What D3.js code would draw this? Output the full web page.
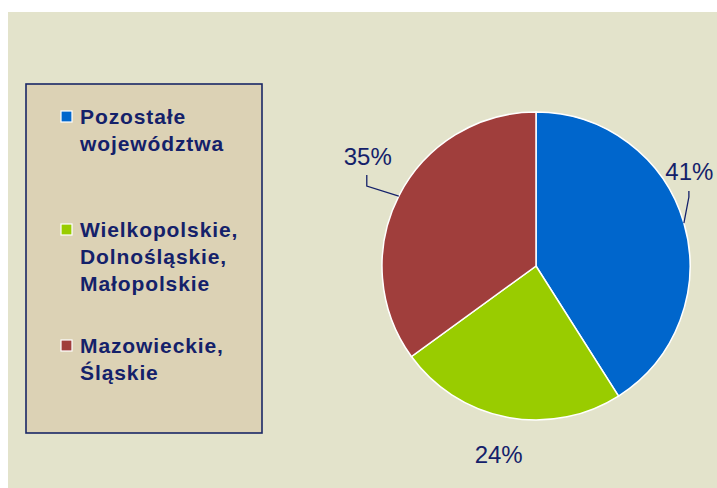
<!DOCTYPE html>
<html>
<head>
<meta charset="utf-8">
<script src="https://cdn.jsdelivr.net/npm/d3@7"></script>
<style>
  html, body { margin: 0; padding: 0; background: #fff; }
  svg { display: block; font-family: "Liberation Sans", Arial, sans-serif; }
</style>
</head>
<body>
<svg></svg>
<script>
// data
const categories = ["Pozostałe województwa", "Wielkopolskie, Dolnośląskie, Małopolskie", "Mazowieckie, Śląskie"];
const legendLines = [["Pozostałe", "województwa"], ["Wielkopolskie,", "Dolnośląskie,", "Małopolskie"], ["Mazowieckie,", "Śląskie"]];
const values = [41, 24, 35];
const colors = ["#0066CC", "#99CC00", "#A03E3C"];

const width = 717, height = 488;
const textColor = "#14216A";

const svg = d3.select("svg")
    .attr("width", width)
    .attr("height", height);

svg.append("rect")
    .attr("x", 8).attr("y", 12)
    .attr("width", width - 8).attr("height", height - 12)
    .attr("fill", "#E3E3CB");

// pie
const cx = 536, cy = 266, r = 154;
const g = svg.append("g").attr("transform", `translate(${cx},${cy})`);

const pie = d3.pie().sort(null).value(d => d);
const arcs = pie(values);
const arc = d3.arc().innerRadius(0).outerRadius(r);

g.selectAll(".slice")
    .data(arcs)
    .enter().append("path")
    .attr("class", "slice")
    .attr("d", arc)
    .attr("fill", (d, i) => colors[i])
    .attr("stroke", "#fff")
    .attr("stroke-width", 1.5);

// label placement relative to the slice's edge point at mid angle
const labelLayout = [
    {elbow: [5, -26], end: [5, -32], text: [5.5, -43]},
    {elbow: null, end: null, text: [-8.5, 46]},
    {elbow: [-32, -10], end: [-32, -21], text: [-31, -31]}
];

arcs.forEach((d, i) => {
    const mid = (d.startAngle + d.endAngle) / 2;
    const ex = r * Math.sin(mid), ey = -r * Math.cos(mid);
    const L = labelLayout[i];
    if (L.elbow) {
        g.append("polyline")
            .attr("points", [[ex, ey], [ex + L.elbow[0], ey + L.elbow[1]], [ex + L.end[0], ey + L.end[1]]].map(p => p.join(",")).join(" "))
            .attr("fill", "none")
            .attr("stroke", textColor)
            .attr("stroke-width", 1.3);
    }
    g.append("text")
        .attr("x", ex + L.text[0])
        .attr("y", ey + L.text[1])
        .attr("text-anchor", "middle")
        .attr("font-size", 24)
        .attr("fill", textColor)
        .text(d3.format(".0%")(d.data / 100));
});

// legend
svg.append("rect")
    .attr("x", 26).attr("y", 84)
    .attr("width", 236).attr("height", 349)
    .attr("fill", "#DCD2B5")
    .attr("stroke", "#1A2766")
    .attr("stroke-width", 1.6);

const legendY = [124, 237, 353];
const legend = svg.selectAll(".legend")
    .data(categories)
    .enter().append("g")
    .attr("class", "legend")
    .attr("transform", (d, i) => `translate(61,${legendY[i]})`);

legend.append("rect")
    .attr("x", 0).attr("y", -13)
    .attr("width", 11).attr("height", 11)
    .attr("fill", (d, i) => colors[i])
    .attr("stroke", "#fff")
    .attr("stroke-width", 1.2);

legend.append("text")
    .attr("x", 19)
    .attr("font-size", 21)
    .attr("font-weight", "bold")
    .attr("letter-spacing", 0.9)
    .attr("fill", textColor)
    .selectAll("tspan")
    .data((d, i) => legendLines[i])
    .enter().append("tspan")
    .attr("x", 19)
    .attr("dy", (d, j) => j === 0 ? 0 : 27)
    .text(d => d);
</script>
</body>
</html>
